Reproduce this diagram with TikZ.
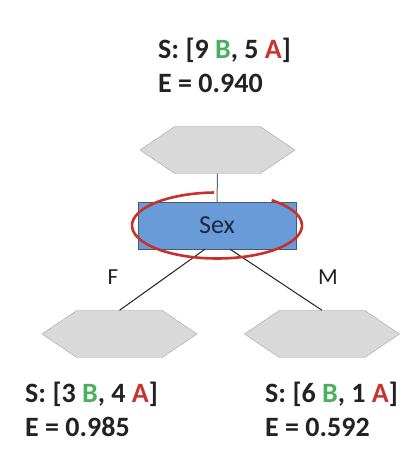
\documentclass[tikz,border=0pt]{standalone}
\usepackage{fontspec}
\setmainfont{Carlito}
\usetikzlibrary{shapes.symbols}
\definecolor{hexfill}{HTML}{D9D9D9}
\definecolor{hexedge}{HTML}{A3A3A3}
\definecolor{sexfill}{HTML}{6A9BD9}
\definecolor{sexedge}{HTML}{4A5A6E}
\definecolor{sextext}{HTML}{1E2840}
\definecolor{markred}{HTML}{C8302C}
\definecolor{cntgreen}{HTML}{4CAF5F}
\definecolor{cntred}{HTML}{C8352E}
\definecolor{txtdark}{HTML}{222222}
\newcommand{\gB}{\textcolor{cntgreen}{B}}
\newcommand{\rA}{\textcolor{cntred}{A}}
\begin{document}
\begin{tikzpicture}[x=1pt,y=1pt,
        hex/.style={draw=hexedge,fill=hexfill,signal,signal to=east and west,
            signal pointer angle=68,minimum width=155pt,minimum height=47pt,inner sep=0pt},
        stats/.style={anchor=west,align=left,inner sep=0pt,text=txtdark,
            font=\fontsize{28}{34}\selectfont\bfseries},
        branch/.style={inner sep=0pt,text=txtdark,font=\fontsize{23}{28}\selectfont}]
    \useasboundingbox[fill=white] (0,0) rectangle (418,470);

    \node[hex] (root) at (217.5,320) {};
    \node[draw=sexedge,fill=sexfill,minimum width=158pt,minimum height=47pt,inner sep=0pt,
          text=sextext,font=\fontsize{26}{30}\selectfont] (sex) at (217,244.5) {Sex};
    \node[hex] (hexF) at (119.5,136) {};
    \node[hex] (hexM) at (322,136) {};

    \node[stats] (stats_root) at (158,405) {S: [9 \gB, 5 \rA]\\E = 0.940};
    \node[stats] (stats_F) at (25,61) {S: [3 \gB, 4 \rA]\\E = 0.985};
    \node[stats] (stats_M) at (265,61) {S: [6 \gB, 1 \rA]\\E = 0.592};
    \node[branch] (label_F) at (113,193) {F};
    \node[branch] (label_M) at (328,193) {M};

    \draw[line width=1pt,draw=gray!80!black] (root) -- (sex);
    \draw[line width=1pt,draw=txtdark] ([xshift=-12pt]sex.south) -- (hexF.north)
                                       ([xshift=13pt]sex.south) -- (hexM.north);

    \draw[markred,line width=2.6pt] ([shift={(92:85 and 33)}]sex.center)
        arc[start angle=92,end angle=410,x radius=85,y radius=33];
\end{tikzpicture}
\end{document}
